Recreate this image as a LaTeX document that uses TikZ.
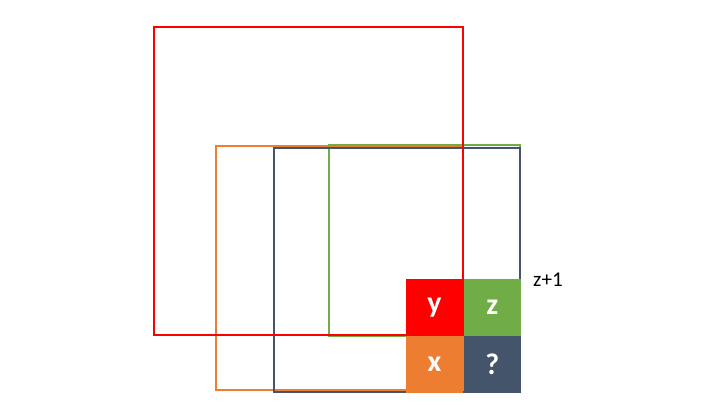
\documentclass[tikz,border=0pt]{standalone}
\usepackage{fontspec}
\setmainfont{Carlito}
\usetikzlibrary{positioning}

\definecolor{cred}{HTML}{FF0000}
\definecolor{cgreen}{HTML}{70AD47}
\definecolor{corange}{HTML}{ED7D31}
\definecolor{cnavy}{HTML}{44546A}

\begin{document}
\begin{tikzpicture}[
	frame/.style={line width=1.4pt},
	cell/.style={rectangle, inner sep=0pt, minimum width=11.4mm, minimum height=11.3mm, text=white, font=\fontsize{17}{20}\selectfont\bfseries}
]
\useasboundingbox (0,0) rectangle (14.4,8.1);

% receptive fields
\draw[frame, corange] (4.32,0.30) rectangle (9.26,5.18);
\draw[frame, cgreen] (6.58,1.38) rectangle (10.40,5.20);
\draw[frame, cnavy] (5.48,0.26) rectangle (10.40,5.14);
\draw[frame, cred] (3.08,1.40) rectangle (9.26,7.56);

% pixels
\node[cell, fill=cred] (ycell) at (8.69,1.955) {y};
\node[cell, fill=cgreen, right=0pt of ycell] (zcell) {z};
\node[cell, fill=corange, below=0pt of ycell] (xcell) {x};
\node[cell, fill=cnavy, right=0pt of xcell] (qcell) {?};
\node[font=\fontsize{12}{14}\selectfont] (zlabel) at (10.96,2.50) {z+1};
\end{tikzpicture}
\end{document}
